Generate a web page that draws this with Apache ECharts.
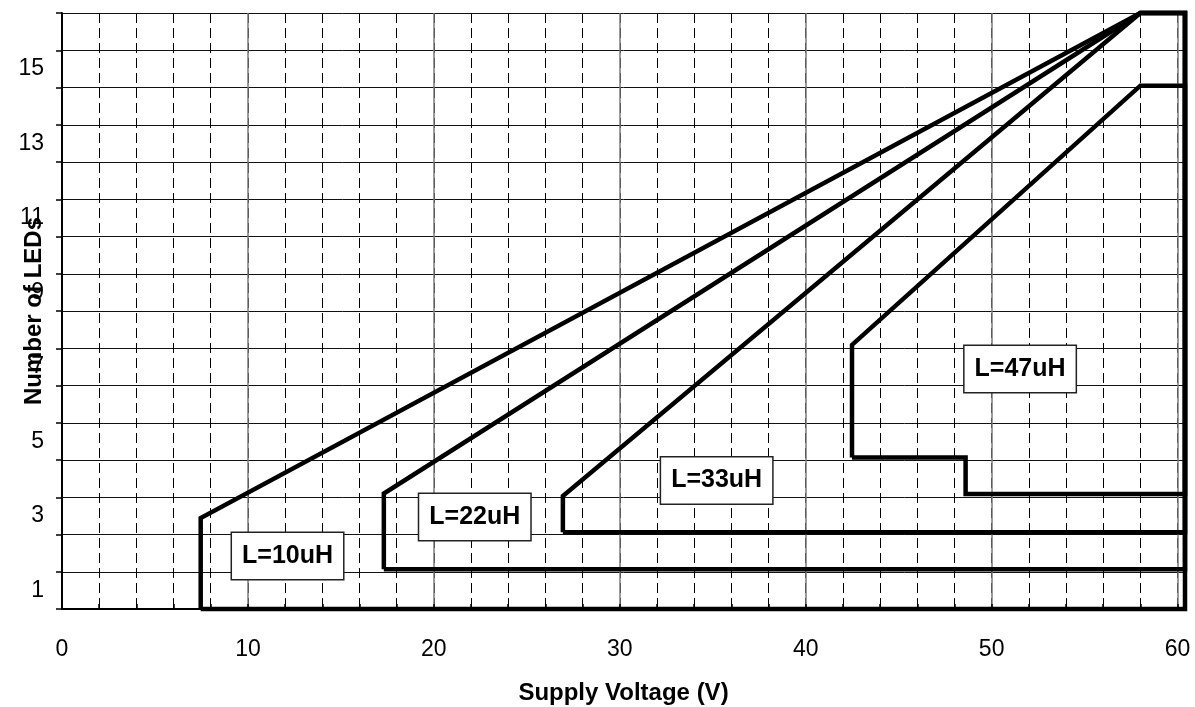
<!DOCTYPE html>
<html>
<head>
<meta charset="utf-8">
<title>Number of LEDs vs Supply Voltage</title>
<script src="https://cdn.jsdelivr.net/npm/echarts@6/dist/echarts.min.js"></script>
<style>
  html, body { margin: 0; padding: 0; background: #fff; }
  #chart { width: 1195px; height: 707px; }
</style>
</head>
<body>
<div id="chart"></div>
<script>
// Operating-region outlines: [supply voltage (V), number of LEDs]
const region10uH = [[7.46, 0], [7.46, 2.44], [58, 16], [60.4, 16], [60.4, 0], [7.46, 0]];
const region22uH = [[17.31, 1.07], [17.31, 3.1], [58, 16], [60.4, 16], [60.4, 1.07], [17.31, 1.07]];
const region33uH = [[26.94, 2.06], [26.94, 3.03], [58, 16], [60.4, 16], [60.4, 2.06], [26.94, 2.06]];
const region47uH = [[42.49, 4.07], [42.49, 7.09], [58, 14.05], [60.4, 14.05], [60.4, 3.09],
                    [48.6, 3.09], [48.6, 4.07], [42.49, 4.07]];

// Inductor tags and the point each tag sits on
const inductorNames = ['L=10uH', 'L=22uH', 'L=33uH', 'L=47uH'];
const tagAnchors = [[12.13, 1.42], [22.2, 2.47], [35.21, 3.45], [51.53, 6.44]];

// Axis ranges and tick labels
const xMax = 60.4;
const xTickLabels = [0, 10, 20, 30, 40, 50, 60];
const yMax = 16;
const yTickLabels = [1, 3, 5, 7, 9, 11, 13, 15];

const FONT = '"Liberation Sans", Arial, sans-serif';
const chart = echarts.init(document.getElementById('chart'), null, { renderer: 'canvas' });

const outline = (name, data) => ({
  name, type: 'line', data, xAxisIndex: 0, yAxisIndex: 0,
  symbol: 'none', clip: false, z: 5,
  lineStyle: { color: '#000', width: 4.5, join: 'miter' }
});

chart.setOption({
  animation: false,
  backgroundColor: '#fff',
  grid: { left: 62, right: 10, top: 13, bottom: 98, containLabel: false, outerBoundsMode: 'none' },
  xAxis: [
    {
      // minor grid: dashed every 2 V
      type: 'value', position: 'bottom', min: 0, max: xMax, interval: 2,
      axisLine: { show: true, onZero: false, lineStyle: { color: '#000', width: 2 } },
      axisTick: { show: true, inside: true, length: 5, lineStyle: { color: '#000', width: 1.5 } },
      axisLabel: { show: false },
      splitLine: { show: true, lineStyle: { color: '#000', width: 1, type: [10, 5] } },
      name: 'Supply Voltage (V)', nameLocation: 'middle', nameGap: 72,
      nameTextStyle: { fontFamily: FONT, fontSize: 24, fontWeight: 'bold', color: '#000' }
    },
    {
      // major grid and labels every 10 V
      type: 'value', position: 'bottom', offset: 0, min: 0, max: xMax, interval: 10,
      axisLine: { show: false }, axisTick: { show: false },
      axisLabel: {
        margin: 29, fontFamily: FONT, fontSize: 23, color: '#000',
        formatter: v => (xTickLabels.indexOf(v) >= 0 ? String(v) : '')
      },
      splitLine: { show: true, lineStyle: { color: '#7a7a7a', width: 1.5 } }
    }
  ],
  yAxis: {
    type: 'value', min: 0, max: yMax, interval: 1,
    axisLine: { show: true, onZero: false, lineStyle: { color: '#000', width: 2 } },
    axisTick: { show: true, inside: false, length: 6, lineStyle: { color: '#000', width: 1.5 } },
    axisLabel: {
      margin: 18, fontFamily: FONT, fontSize: 23, color: '#000',
      // each label sits in the band half a step below its tick
      verticalAlign: 'top', lineHeight: 37.25,
      formatter: v => (yTickLabels.indexOf(v) >= 0 ? String(v) : '')
    },
    splitLine: { show: true, lineStyle: { color: '#111', width: 1 } },
    name: 'Number of LEDs', nameLocation: 'middle', nameGap: 16, nameRotate: 90,
    nameMoveOverlap: false,
    nameTextStyle: { fontFamily: FONT, fontSize: 24, fontWeight: 'bold', color: '#000' }
  },
  series: [
    outline('L=10uH', region10uH),
    outline('L=22uH', region22uH),
    outline('L=33uH', region33uH),
    outline('L=47uH', region47uH),
    {
      type: 'scatter', xAxisIndex: 0, yAxisIndex: 0, symbolSize: 0, z: 10,
      itemStyle: { opacity: 1, color: '#000' },
      data: inductorNames.map((n, i) => ({ name: n, value: tagAnchors[i] })),
      label: {
        show: true, position: 'inside', formatter: p => p.name,
        fontFamily: FONT, fontSize: 25, fontWeight: 'bold', color: '#000',
        textBorderWidth: 0, textShadowBlur: 0,
        lineHeight: 28, padding: [9, 10],
        backgroundColor: '#fff', borderColor: '#222', borderWidth: 1.5
      },
      emphasis: { disabled: true }
    }
  ]
});
</script>
</body>
</html>
